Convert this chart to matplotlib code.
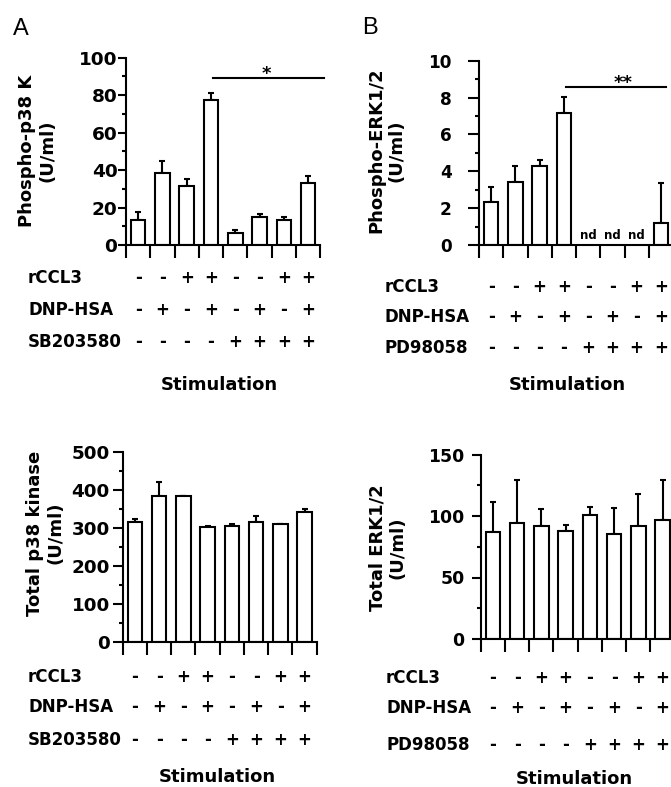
import numpy as np
import matplotlib
matplotlib.use('Agg')
import matplotlib.pyplot as plt
from matplotlib.transforms import blended_transform_factory
from matplotlib.ticker import MultipleLocator

W, H = 671, 787
plt.rcParams['font.family'] = ['DejaVu Sans']
plt.rcParams['font.weight'] = 'bold'

# ---------------- data ----------------
rccl3 = ['-', '-', '+', '+', '-', '-', '+', '+']
dnp_hsa = ['-', '+', '-', '+', '-', '+', '-', '+']
inhibitor = ['-', '-', '-', '-', '+', '+', '+', '+']

p38_phospho = [13.5, 38.3, 31.7, 77.2, 6.6, 15.1, 13.5, 33.0]
p38_phospho_err = [4.1, 6.6, 3.6, 4.2, 1.4, 1.5, 1.5, 4.0]

erk_phospho = [2.35, 3.43, 4.29, 7.18, np.nan, np.nan, np.nan, 1.21]
erk_phospho_err = [0.81, 0.84, 0.33, 0.87, np.nan, np.nan, np.nan, 2.17]
erk_nd = [False, False, False, False, True, True, True, False]

p38_total = [317, 386, 386, 303, 306, 317, 311, 343]
p38_total_err = [7, 37, 0, 4, 5, 16, 0, 7]

erk_total = [86.6, 94.7, 92.0, 87.4, 101.2, 85.0, 92.0, 96.4]
erk_total_err = [24.4, 34.3, 14.0, 5.6, 5.8, 21.7, 26.0, 32.6]

fig = plt.figure(figsize=(W / 100, H / 100), dpi=100)


def fx(x):
    return x / W


def fy(y):
    return 1 - y / H


def panel(rect_px, vals, errs, ymax, major, minor, ylab, ylab_xy,
          inhib_name, row_base, row_x, stim_xy, tick_len, tick_pad, tick_size):
    left, right, y0, ytop = rect_px
    ax = fig.add_axes([fx(left), fy(y0), (right - left) / W, (y0 - ytop) / H])
    ax.patch.set_visible(False)
    n = len(vals)
    x = np.arange(n) + 0.5
    v = np.array(vals, dtype=float)
    e = np.array(errs, dtype=float)
    ax.bar(x, v, width=0.6, color='white', edgecolor='black', linewidth=1.5, zorder=2)
    ax.errorbar(x, v, yerr=[np.zeros(n), e], fmt='none', ecolor='black',
                elinewidth=1.5, capsize=2.4, capthick=1.5, zorder=1)
    ax.set_xlim(0, n)
    ax.set_ylim(0, ymax)
    for s in ['top', 'right']:
        ax.spines[s].set_visible(False)
    for s in ['left', 'bottom']:
        ax.spines[s].set_linewidth(1.5)
    ax.set_xticks(np.arange(n + 1))
    ax.set_xticklabels([])
    ax.tick_params(axis='x', direction='out', length=9.6, width=1.5)
    ax.yaxis.set_major_locator(MultipleLocator(major))
    ax.yaxis.set_minor_locator(MultipleLocator(minor))
    ax.tick_params(axis='y', which='major', length=tick_len, width=1.5,
                   labelsize=tick_size, pad=tick_pad)
    ax.tick_params(axis='y', which='minor', length=3, width=1.5)
    for lab in ax.get_yticklabels():
        lab.set_fontweight('bold')

    fig.text(fx(ylab_xy[0]), fy(ylab_xy[1]), ylab, rotation=90, ha='center',
             va='center', fontsize=13, multialignment='center', linespacing=1.15)

    tr = blended_transform_factory(ax.transData, fig.transFigure)
    rows = [('rCCL3', rccl3), ('DNP-HSA', dnp_hsa), (inhib_name, inhibitor)]
    for (name, signs), base in zip(rows, row_base):
        fig.text(fx(row_x), fy(base), name, ha='left', va='baseline', fontsize=12)
        for xi, sgn in zip(x, signs):
            ax.text(xi, fy(base), sgn, transform=tr, ha='center', va='baseline',
                    fontsize=12, clip_on=False)
    fig.text(fx(stim_xy[0]), fy(stim_xy[1]), 'Stimulation', ha='center',
             va='baseline', fontsize=13)
    return ax, x


# Panel A
axA, xA = panel((126, 320.2, 245, 57.7), p38_phospho, p38_phospho_err, 100, 20, 10,
                'Phospho-p38 K\n(U/ml)', (37.5, 151), 'SB203580',
                (283, 315, 347), 28, (219, 389.5), 5.5, 0.7, 13.3)
axA.plot([3.6, 8.15], [89, 89], color='black', lw=1.5, clip_on=False)
axA.text(5.77, 88.4, '*', ha='center', va='baseline', fontsize=13, clip_on=False)

# Panel B
axB, xB = panel((479, 673, 245, 60.7), erk_phospho, erk_phospho_err, 10, 2, 1,
                'Phospho-ERK1/2\n(U/ml)', (386.5, 150.5), 'PD98058',
                (292, 322, 353), 385, (567.5, 390.5), 8, 11.5, 12.2)
axB.plot([3.6, 7.73], [8.59, 8.59], color='black', lw=1.5, clip_on=False)
axB.text(5.95, 8.53, '**', ha='center', va='baseline', fontsize=13, clip_on=False)
for xi, nd in zip(xB, erk_nd):
    if nd:
        axB.text(xi, 0.31, 'nd', ha='center', va='baseline', fontsize=8.5)

# Panel C
panel((122.7, 316.7, 642, 452.3), p38_total, p38_total_err, 500, 100, 50,
      'Total p38 kinase\n(U/ml)', (45, 533), 'SB203580',
      (682, 712, 745), 28, (217.5, 782.5), 7.2, 2, 13.2)

# Panel D
panel((480.7, 674.7, 639, 454.5), erk_total, erk_total_err, 150, 50, 25,
      'Total ERK1/2\n(U/ml)', (387.5, 548), 'PD98058',
      (683, 713, 750), 386, (574, 783.5), 6.5, 5, 12.4)

# panel letters
fig.text(fx(13), fy(35), 'A', fontsize=17, fontweight='normal',
         family='Liberation Sans', ha='left', va='baseline')
fig.text(fx(362), fy(34), 'B', fontsize=17, fontweight='normal',
         family='Liberation Sans', ha='left', va='baseline')

fig.savefig('out.png', dpi=100)
